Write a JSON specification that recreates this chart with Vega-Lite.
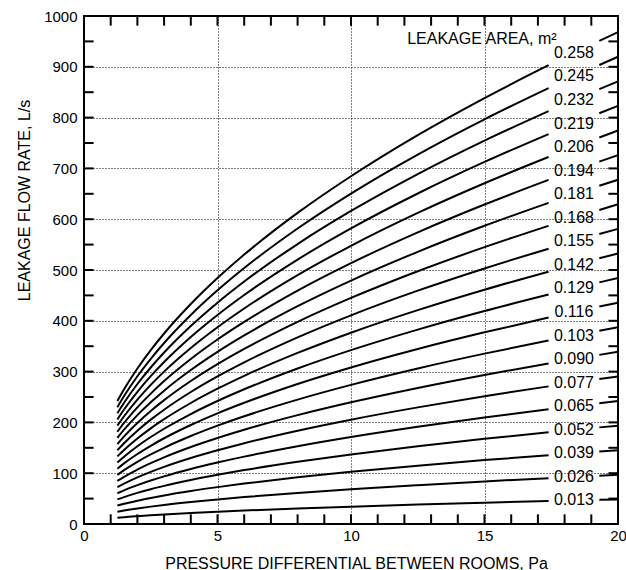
{
  "$schema": "https://vega.github.io/schema/vega-lite/v6.json",
  "width": 534,
  "height": 508,
  "autosize": "none",
  "padding": {"left": 84, "top": 16, "right": 8, "bottom": 46},
  "background": "white",
  "config": {
    "view": {"stroke": "black", "strokeWidth": 2},
    "font": "Liberation Sans",
    "axis": {
      "labelFont": "Liberation Sans",
      "titleFont": "Liberation Sans",
      "labelColor": "black",
      "titleColor": "black",
      "labelFontSize": 15,
      "titleFontSize": 16,
      "titleFontWeight": "normal",
      "domain": false,
      "labelOverlap": false,
      "labelFlush": false,
      "labelBound": false
    }
  },
  "datasets": {
    "c": [
      {"a":"0.013","s":"L","x":1.25,"y":12.1},{"a":"0.013","s":"L","x":1.5,"y":13.3},{"a":"0.013","s":"L","x":2,"y":15.3},{"a":"0.013","s":"L","x":2.5,"y":17.1},{"a":"0.013","s":"L","x":3,"y":18.8},{"a":"0.013","s":"L","x":4,"y":21.7},{"a":"0.013","s":"L","x":5,"y":24.2},{"a":"0.013","s":"L","x":6,"y":26.5},{"a":"0.013","s":"L","x":8,"y":30.6},{"a":"0.013","s":"L","x":10,"y":34.2},{"a":"0.013","s":"L","x":12.5,"y":38.3},{"a":"0.013","s":"L","x":15,"y":41.9},{"a":"0.013","s":"L","x":17.4,"y":45.2},{"a":"0.013","s":"R","x":19.3,"y":47.6},{"a":"0.013","s":"R","x":20,"y":48.4},
      {"a":"0.026","s":"L","x":1.25,"y":24.2},{"a":"0.026","s":"L","x":1.5,"y":26.5},{"a":"0.026","s":"L","x":2,"y":30.6},{"a":"0.026","s":"L","x":2.5,"y":34.2},{"a":"0.026","s":"L","x":3,"y":37.5},{"a":"0.026","s":"L","x":4,"y":43.3},{"a":"0.026","s":"L","x":5,"y":48.4},{"a":"0.026","s":"L","x":6,"y":53.0},{"a":"0.026","s":"L","x":8,"y":61.2},{"a":"0.026","s":"L","x":10,"y":68.5},{"a":"0.026","s":"L","x":12.5,"y":76.5},{"a":"0.026","s":"L","x":15,"y":83.9},{"a":"0.026","s":"L","x":17.4,"y":90.3},{"a":"0.026","s":"R","x":19.3,"y":95.1},{"a":"0.026","s":"R","x":20,"y":96.8},
      {"a":"0.039","s":"L","x":1.25,"y":36.3},{"a":"0.039","s":"L","x":1.5,"y":39.8},{"a":"0.039","s":"L","x":2,"y":45.9},{"a":"0.039","s":"L","x":2.5,"y":51.3},{"a":"0.039","s":"L","x":3,"y":56.3},{"a":"0.039","s":"L","x":4,"y":65.0},{"a":"0.039","s":"L","x":5,"y":72.6},{"a":"0.039","s":"L","x":6,"y":79.5},{"a":"0.039","s":"L","x":8,"y":91.9},{"a":"0.039","s":"L","x":10,"y":102.7},{"a":"0.039","s":"L","x":12.5,"y":114.8},{"a":"0.039","s":"L","x":15,"y":125.8},{"a":"0.039","s":"L","x":17.4,"y":135.5},{"a":"0.039","s":"R","x":19.3,"y":142.7},{"a":"0.039","s":"R","x":20,"y":145.2},
      {"a":"0.052","s":"L","x":1.25,"y":48.4},{"a":"0.052","s":"L","x":1.5,"y":53.0},{"a":"0.052","s":"L","x":2,"y":61.2},{"a":"0.052","s":"L","x":2.5,"y":68.5},{"a":"0.052","s":"L","x":3,"y":75.0},{"a":"0.052","s":"L","x":4,"y":86.6},{"a":"0.052","s":"L","x":5,"y":96.8},{"a":"0.052","s":"L","x":6,"y":106.1},{"a":"0.052","s":"L","x":8,"y":122.5},{"a":"0.052","s":"L","x":10,"y":136.9},{"a":"0.052","s":"L","x":12.5,"y":153.1},{"a":"0.052","s":"L","x":15,"y":167.7},{"a":"0.052","s":"L","x":17.4,"y":180.6},{"a":"0.052","s":"R","x":19.3,"y":190.2},{"a":"0.052","s":"R","x":20,"y":193.6},
      {"a":"0.065","s":"L","x":1.25,"y":60.5},{"a":"0.065","s":"L","x":1.5,"y":66.3},{"a":"0.065","s":"L","x":2,"y":76.5},{"a":"0.065","s":"L","x":2.5,"y":85.6},{"a":"0.065","s":"L","x":3,"y":93.8},{"a":"0.065","s":"L","x":4,"y":108.3},{"a":"0.065","s":"L","x":5,"y":121.0},{"a":"0.065","s":"L","x":6,"y":132.6},{"a":"0.065","s":"L","x":8,"y":153.1},{"a":"0.065","s":"L","x":10,"y":171.2},{"a":"0.065","s":"L","x":12.5,"y":191.4},{"a":"0.065","s":"L","x":15,"y":209.6},{"a":"0.065","s":"L","x":17.4,"y":225.8},{"a":"0.065","s":"R","x":19.3,"y":237.8},{"a":"0.065","s":"R","x":20,"y":242.1},
      {"a":"0.077","s":"L","x":1.25,"y":72.6},{"a":"0.077","s":"L","x":1.5,"y":79.5},{"a":"0.077","s":"L","x":2,"y":91.9},{"a":"0.077","s":"L","x":2.5,"y":102.7},{"a":"0.077","s":"L","x":3,"y":112.5},{"a":"0.077","s":"L","x":4,"y":129.9},{"a":"0.077","s":"L","x":5,"y":145.2},{"a":"0.077","s":"L","x":6,"y":159.1},{"a":"0.077","s":"L","x":8,"y":183.7},{"a":"0.077","s":"L","x":10,"y":205.4},{"a":"0.077","s":"L","x":12.5,"y":229.6},{"a":"0.077","s":"L","x":15,"y":251.6},{"a":"0.077","s":"L","x":17.4,"y":270.9},{"a":"0.077","s":"R","x":19.3,"y":285.3},{"a":"0.077","s":"R","x":20,"y":290.5},
      {"a":"0.090","s":"L","x":1.25,"y":84.7},{"a":"0.090","s":"L","x":1.5,"y":92.8},{"a":"0.090","s":"L","x":2,"y":107.2},{"a":"0.090","s":"L","x":2.5,"y":119.8},{"a":"0.090","s":"L","x":3,"y":131.3},{"a":"0.090","s":"L","x":4,"y":151.6},{"a":"0.090","s":"L","x":5,"y":169.4},{"a":"0.090","s":"L","x":6,"y":185.6},{"a":"0.090","s":"L","x":8,"y":214.3},{"a":"0.090","s":"L","x":10,"y":239.6},{"a":"0.090","s":"L","x":12.5,"y":267.9},{"a":"0.090","s":"L","x":15,"y":293.5},{"a":"0.090","s":"L","x":17.4,"y":316.1},{"a":"0.090","s":"R","x":19.3,"y":332.9},{"a":"0.090","s":"R","x":20,"y":338.9},
      {"a":"0.103","s":"L","x":1.25,"y":96.8},{"a":"0.103","s":"L","x":1.5,"y":106.1},{"a":"0.103","s":"L","x":2,"y":122.5},{"a":"0.103","s":"L","x":2.5,"y":136.9},{"a":"0.103","s":"L","x":3,"y":150.0},{"a":"0.103","s":"L","x":4,"y":173.2},{"a":"0.103","s":"L","x":5,"y":193.6},{"a":"0.103","s":"L","x":6,"y":212.1},{"a":"0.103","s":"L","x":8,"y":244.9},{"a":"0.103","s":"L","x":10,"y":273.9},{"a":"0.103","s":"L","x":12.5,"y":306.2},{"a":"0.103","s":"L","x":15,"y":335.4},{"a":"0.103","s":"L","x":17.4,"y":361.2},{"a":"0.103","s":"R","x":19.3,"y":380.4},{"a":"0.103","s":"R","x":20,"y":387.3},
      {"a":"0.116","s":"L","x":1.25,"y":108.9},{"a":"0.116","s":"L","x":1.5,"y":119.3},{"a":"0.116","s":"L","x":2,"y":137.8},{"a":"0.116","s":"L","x":2.5,"y":154.0},{"a":"0.116","s":"L","x":3,"y":168.8},{"a":"0.116","s":"L","x":4,"y":194.9},{"a":"0.116","s":"L","x":5,"y":217.9},{"a":"0.116","s":"L","x":6,"y":238.6},{"a":"0.116","s":"L","x":8,"y":275.6},{"a":"0.116","s":"L","x":10,"y":308.1},{"a":"0.116","s":"L","x":12.5,"y":344.5},{"a":"0.116","s":"L","x":15,"y":377.3},{"a":"0.116","s":"L","x":17.4,"y":406.4},{"a":"0.116","s":"R","x":19.3,"y":428.0},{"a":"0.116","s":"R","x":20,"y":435.7},
      {"a":"0.129","s":"L","x":1.25,"y":121.0},{"a":"0.129","s":"L","x":1.5,"y":132.6},{"a":"0.129","s":"L","x":2,"y":153.1},{"a":"0.129","s":"L","x":2.5,"y":171.2},{"a":"0.129","s":"L","x":3,"y":187.5},{"a":"0.129","s":"L","x":4,"y":216.5},{"a":"0.129","s":"L","x":5,"y":242.1},{"a":"0.129","s":"L","x":6,"y":265.2},{"a":"0.129","s":"L","x":8,"y":306.2},{"a":"0.129","s":"L","x":10,"y":342.3},{"a":"0.129","s":"L","x":12.5,"y":382.7},{"a":"0.129","s":"L","x":15,"y":419.3},{"a":"0.129","s":"L","x":17.4,"y":451.6},{"a":"0.129","s":"R","x":19.3,"y":475.6},{"a":"0.129","s":"R","x":20,"y":484.1},
      {"a":"0.142","s":"L","x":1.25,"y":133.1},{"a":"0.142","s":"L","x":1.5,"y":145.8},{"a":"0.142","s":"L","x":2,"y":168.4},{"a":"0.142","s":"L","x":2.5,"y":188.3},{"a":"0.142","s":"L","x":3,"y":206.3},{"a":"0.142","s":"L","x":4,"y":238.2},{"a":"0.142","s":"L","x":5,"y":266.3},{"a":"0.142","s":"L","x":6,"y":291.7},{"a":"0.142","s":"L","x":8,"y":336.8},{"a":"0.142","s":"L","x":10,"y":376.6},{"a":"0.142","s":"L","x":12.5,"y":421.0},{"a":"0.142","s":"L","x":15,"y":461.2},{"a":"0.142","s":"L","x":17.4,"y":496.7},{"a":"0.142","s":"R","x":19.3,"y":523.1},{"a":"0.142","s":"R","x":20,"y":532.5},
      {"a":"0.155","s":"L","x":1.25,"y":145.2},{"a":"0.155","s":"L","x":1.5,"y":159.1},{"a":"0.155","s":"L","x":2,"y":183.7},{"a":"0.155","s":"L","x":2.5,"y":205.4},{"a":"0.155","s":"L","x":3,"y":225.0},{"a":"0.155","s":"L","x":4,"y":259.8},{"a":"0.155","s":"L","x":5,"y":290.5},{"a":"0.155","s":"L","x":6,"y":318.2},{"a":"0.155","s":"L","x":8,"y":367.4},{"a":"0.155","s":"L","x":10,"y":410.8},{"a":"0.155","s":"L","x":12.5,"y":459.3},{"a":"0.155","s":"L","x":15,"y":503.1},{"a":"0.155","s":"L","x":17.4,"y":541.9},{"a":"0.155","s":"R","x":19.3,"y":570.7},{"a":"0.155","s":"R","x":20,"y":580.9},
      {"a":"0.168","s":"L","x":1.25,"y":157.3},{"a":"0.168","s":"L","x":1.5,"y":172.4},{"a":"0.168","s":"L","x":2,"y":199.0},{"a":"0.168","s":"L","x":2.5,"y":222.5},{"a":"0.168","s":"L","x":3,"y":243.8},{"a":"0.168","s":"L","x":4,"y":281.5},{"a":"0.168","s":"L","x":5,"y":314.7},{"a":"0.168","s":"L","x":6,"y":344.7},{"a":"0.168","s":"L","x":8,"y":398.0},{"a":"0.168","s":"L","x":10,"y":445.0},{"a":"0.168","s":"L","x":12.5,"y":497.5},{"a":"0.168","s":"L","x":15,"y":545.0},{"a":"0.168","s":"L","x":17.4,"y":587.0},{"a":"0.168","s":"R","x":19.3,"y":618.2},{"a":"0.168","s":"R","x":20,"y":629.3},
      {"a":"0.181","s":"L","x":1.25,"y":169.4},{"a":"0.181","s":"L","x":1.5,"y":185.6},{"a":"0.181","s":"L","x":2,"y":214.3},{"a":"0.181","s":"L","x":2.5,"y":239.6},{"a":"0.181","s":"L","x":3,"y":262.5},{"a":"0.181","s":"L","x":4,"y":303.1},{"a":"0.181","s":"L","x":5,"y":338.9},{"a":"0.181","s":"L","x":6,"y":371.2},{"a":"0.181","s":"L","x":8,"y":428.7},{"a":"0.181","s":"L","x":10,"y":479.2},{"a":"0.181","s":"L","x":12.5,"y":535.8},{"a":"0.181","s":"L","x":15,"y":587.0},{"a":"0.181","s":"L","x":17.4,"y":632.2},{"a":"0.181","s":"R","x":19.3,"y":665.8},{"a":"0.181","s":"R","x":20,"y":677.8},
      {"a":"0.194","s":"L","x":1.25,"y":181.5},{"a":"0.194","s":"L","x":1.5,"y":198.9},{"a":"0.194","s":"L","x":2,"y":229.6},{"a":"0.194","s":"L","x":2.5,"y":256.7},{"a":"0.194","s":"L","x":3,"y":281.3},{"a":"0.194","s":"L","x":4,"y":324.8},{"a":"0.194","s":"L","x":5,"y":363.1},{"a":"0.194","s":"L","x":6,"y":397.7},{"a":"0.194","s":"L","x":8,"y":459.3},{"a":"0.194","s":"L","x":10,"y":513.5},{"a":"0.194","s":"L","x":12.5,"y":574.1},{"a":"0.194","s":"L","x":15,"y":628.9},{"a":"0.194","s":"L","x":17.4,"y":677.3},{"a":"0.194","s":"R","x":19.3,"y":713.3},{"a":"0.194","s":"R","x":20,"y":726.2},
      {"a":"0.206","s":"L","x":1.25,"y":193.6},{"a":"0.206","s":"L","x":1.5,"y":212.1},{"a":"0.206","s":"L","x":2,"y":244.9},{"a":"0.206","s":"L","x":2.5,"y":273.9},{"a":"0.206","s":"L","x":3,"y":300.0},{"a":"0.206","s":"L","x":4,"y":346.4},{"a":"0.206","s":"L","x":5,"y":387.3},{"a":"0.206","s":"L","x":6,"y":424.3},{"a":"0.206","s":"L","x":8,"y":489.9},{"a":"0.206","s":"L","x":10,"y":547.7},{"a":"0.206","s":"L","x":12.5,"y":612.4},{"a":"0.206","s":"L","x":15,"y":670.8},{"a":"0.206","s":"L","x":17.4,"y":722.5},{"a":"0.206","s":"R","x":19.3,"y":760.9},{"a":"0.206","s":"R","x":20,"y":774.6},
      {"a":"0.219","s":"L","x":1.25,"y":205.8},{"a":"0.219","s":"L","x":1.5,"y":225.4},{"a":"0.219","s":"L","x":2,"y":260.3},{"a":"0.219","s":"L","x":2.5,"y":291.0},{"a":"0.219","s":"L","x":3,"y":318.8},{"a":"0.219","s":"L","x":4,"y":368.1},{"a":"0.219","s":"L","x":5,"y":411.5},{"a":"0.219","s":"L","x":6,"y":450.8},{"a":"0.219","s":"L","x":8,"y":520.5},{"a":"0.219","s":"L","x":10,"y":581.9},{"a":"0.219","s":"L","x":12.5,"y":650.6},{"a":"0.219","s":"L","x":15,"y":712.7},{"a":"0.219","s":"L","x":17.4,"y":767.6},{"a":"0.219","s":"R","x":19.3,"y":808.5},{"a":"0.219","s":"R","x":20,"y":823.0},
      {"a":"0.232","s":"L","x":1.25,"y":217.9},{"a":"0.232","s":"L","x":1.5,"y":238.6},{"a":"0.232","s":"L","x":2,"y":275.6},{"a":"0.232","s":"L","x":2.5,"y":308.1},{"a":"0.232","s":"L","x":3,"y":337.5},{"a":"0.232","s":"L","x":4,"y":389.7},{"a":"0.232","s":"L","x":5,"y":435.7},{"a":"0.232","s":"L","x":6,"y":477.3},{"a":"0.232","s":"L","x":8,"y":551.1},{"a":"0.232","s":"L","x":10,"y":616.2},{"a":"0.232","s":"L","x":12.5,"y":688.9},{"a":"0.232","s":"L","x":15,"y":754.7},{"a":"0.232","s":"L","x":17.4,"y":812.8},{"a":"0.232","s":"R","x":19.3,"y":856.0},{"a":"0.232","s":"R","x":20,"y":871.4},
      {"a":"0.245","s":"L","x":1.25,"y":230.0},{"a":"0.245","s":"L","x":1.5,"y":251.9},{"a":"0.245","s":"L","x":2,"y":290.9},{"a":"0.245","s":"L","x":2.5,"y":325.2},{"a":"0.245","s":"L","x":3,"y":356.3},{"a":"0.245","s":"L","x":4,"y":411.4},{"a":"0.245","s":"L","x":5,"y":459.9},{"a":"0.245","s":"L","x":6,"y":503.8},{"a":"0.245","s":"L","x":8,"y":581.7},{"a":"0.245","s":"L","x":10,"y":650.4},{"a":"0.245","s":"L","x":12.5,"y":727.2},{"a":"0.245","s":"L","x":15,"y":796.6},{"a":"0.245","s":"L","x":17.4,"y":857.9},{"a":"0.245","s":"R","x":19.3,"y":903.6},{"a":"0.245","s":"R","x":20,"y":919.8},
      {"a":"0.258","s":"L","x":1.25,"y":242.1},{"a":"0.258","s":"L","x":1.5,"y":265.2},{"a":"0.258","s":"L","x":2,"y":306.2},{"a":"0.258","s":"L","x":2.5,"y":342.3},{"a":"0.258","s":"L","x":3,"y":375.0},{"a":"0.258","s":"L","x":4,"y":433.0},{"a":"0.258","s":"L","x":5,"y":484.1},{"a":"0.258","s":"L","x":6,"y":530.3},{"a":"0.258","s":"L","x":8,"y":612.4},{"a":"0.258","s":"L","x":10,"y":684.6},{"a":"0.258","s":"L","x":12.5,"y":765.5},{"a":"0.258","s":"L","x":15,"y":838.5},{"a":"0.258","s":"L","x":17.4,"y":903.1},{"a":"0.258","s":"R","x":19.3,"y":951.1},{"a":"0.258","s":"R","x":20,"y":968.2}
    ],
    "l": [
      {"t":"0.013","x":18.35,"y":46.4},{"t":"0.026","x":18.35,"y":92.7},{"t":"0.039","x":18.35,"y":139.1},{"t":"0.052","x":18.35,"y":185.5},{"t":"0.065","x":18.35,"y":231.9},{"t":"0.077","x":18.35,"y":278.2},{"t":"0.090","x":18.35,"y":324.6},{"t":"0.103","x":18.35,"y":371.0},{"t":"0.116","x":18.35,"y":417.3},{"t":"0.129","x":18.35,"y":463.7},{"t":"0.142","x":18.35,"y":510.1},{"t":"0.155","x":18.35,"y":556.5},{"t":"0.168","x":18.35,"y":602.8},{"t":"0.181","x":18.35,"y":649.2},{"t":"0.194","x":18.35,"y":695.6},{"t":"0.206","x":18.35,"y":741.9},{"t":"0.219","x":18.35,"y":788.3},{"t":"0.232","x":18.35,"y":834.7},{"t":"0.245","x":18.35,"y":881.0},{"t":"0.258","x":18.35,"y":927.4}
    ],
    "h": [
      {"t":"LEAKAGE AREA, m²","x":17.7,"y":955}
    ],
    "tx": [
      {"v":1},{"v":2},{"v":3},{"v":4},{"v":5},{"v":6},{"v":7},{"v":8},{"v":9},{"v":10},{"v":11},{"v":12},{"v":13},{"v":14},{"v":15},{"v":16},{"v":17},{"v":18},{"v":19}
    ],
    "ty": [
      {"v":50},{"v":100},{"v":150},{"v":200},{"v":250},{"v":300},{"v":350},{"v":400},{"v":450},{"v":500},{"v":550},{"v":600},{"v":650},{"v":700},{"v":750},{"v":800},{"v":850},{"v":900},{"v":950}
    ]
  },
  "layer": [
    {
      "data": {"name": "c"},
      "mark": {"type": "line", "color": "black", "strokeWidth": 2, "interpolate": "monotone"},
      "encoding": {
        "x": {
          "field": "x", "type": "quantitative",
          "scale": {"domain": [0, 20], "nice": false, "zero": false},
          "axis": {
            "orient": "bottom",
            "title": "PRESSURE DIFFERENTIAL BETWEEN ROOMS, Pa",
            "titleX": 272, "titleY": 39, "titleBaseline": "middle", "titleAlign": "center",
            "values": [0, 5, 10, 15, 20],
            "format": "d",
            "ticks": false,
            "labelPadding": 4,
            "grid": true,
            "gridColor": "black",
            "gridDash": [1, 2],
            "gridWidth": 1,
            "gridOpacity": {"condition": {"test": "datum.value > 0 && datum.value < 20", "value": 1}, "value": 0}
          }
        },
        "y": {
          "field": "y", "type": "quantitative",
          "scale": {"domain": [0, 1000], "nice": false},
          "axis": {
            "orient": "left",
            "title": "LEAKAGE FLOW RATE, L/s",
            "titleX": -60, "titleY": 184, "titleAngle": -90, "titleBaseline": "middle", "titleAlign": "center",
            "values": [0,100,200,300,400,500,600,700,800,900,1000],
            "format": "d",
            "ticks": false,
            "labelPadding": 7,
            "grid": true,
            "gridColor": "black",
            "gridDash": [1, 2],
            "gridWidth": 1,
            "gridOpacity": {"condition": {"test": "datum.value > 0 && datum.value < 1000", "value": 1}, "value": 0}
          }
        },
        "detail": [{"field": "a"}, {"field": "s"}]
      }
    },
    {
      "data": {"name": "tx"},
      "mark": {"type": "rule", "color": "black", "strokeWidth": 2},
      "encoding": {
        "x": {"field": "v", "type": "quantitative", "axis": null},
        "y": {"datum": 0, "type": "quantitative", "axis": null},
        "y2": {"datum": 19}
      }
    },
    {
      "data": {"name": "tx"},
      "mark": {"type": "rule", "color": "black", "strokeWidth": 2},
      "encoding": {
        "x": {"field": "v", "type": "quantitative", "axis": null},
        "y": {"datum": 1000, "type": "quantitative", "axis": null},
        "y2": {"datum": 981}
      }
    },
    {
      "data": {"name": "ty"},
      "mark": {"type": "rule", "color": "black", "strokeWidth": 2},
      "encoding": {
        "y": {"field": "v", "type": "quantitative", "axis": null},
        "x": {"datum": 0, "type": "quantitative", "axis": null},
        "x2": {"datum": 0.36}
      }
    },
    {
      "data": {"name": "ty"},
      "mark": {"type": "rule", "color": "black", "strokeWidth": 2},
      "encoding": {
        "y": {"field": "v", "type": "quantitative", "axis": null},
        "x": {"datum": 20, "type": "quantitative", "axis": null},
        "x2": {"datum": 19.64}
      }
    },
    {
      "data": {"name": "l"},
      "mark": {"type": "text", "fontSize": 16, "align": "center", "baseline": "middle", "color": "black", "font": "Liberation Sans"},
      "encoding": {
        "x": {"field": "x", "type": "quantitative", "axis": null},
        "y": {"field": "y", "type": "quantitative", "axis": null},
        "text": {"field": "t"}
      }
    },
    {
      "data": {"name": "h"},
      "mark": {"type": "text", "fontSize": 16, "align": "right", "baseline": "middle", "color": "black", "font": "Liberation Sans"},
      "encoding": {
        "x": {"field": "x", "type": "quantitative", "axis": null},
        "y": {"field": "y", "type": "quantitative", "axis": null},
        "text": {"field": "t"}
      }
    }
  ],
  "resolve": {"axis": {"x": "independent", "y": "independent"}}
}
